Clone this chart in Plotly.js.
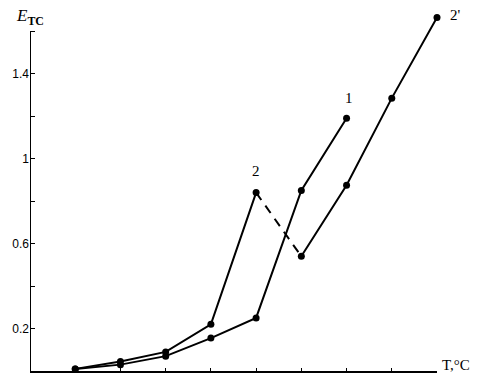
<!DOCTYPE html>
<html>
<head>
<meta charset="utf-8">
<script src="https://cdn.plot.ly/plotly-3.0.1.min.js"></script>
<style>html,body{margin:0;padding:0;background:#fff;}#chart{width:483px;height:376px;}</style>
</head>
<body>
<div id="chart"></div>
<script>
// Data (x = temperature step index)
const x1 = [1, 2, 3, 4, 5, 6, 7];
const y1 = [0.01, 0.03, 0.07, 0.155, 0.25, 0.85, 1.19];
const x2 = [1, 2, 3, 4, 5];
const y2 = [0.01, 0.045, 0.09, 0.22, 0.84];
const x2p = [6, 7, 8, 9];
const y2p = [0.54, 0.875, 1.285, 1.665];
const yTickVals = [0.2, 0.6, 1.0, 1.4];
const yTickText = ['0.2', '0.6', '1', '1.4'];
const yMinorTickVals = [0.4, 0.8, 1.2, 1.6];
const xTickVals = [1, 2, 3, 4, 5, 6, 7, 8, 9];
const yAxisTop = 1.6;

const lineStyle = {color: '#000', width: 2};
const markerStyle = {color: '#000', size: 7};

const traces = [
  {x: x1, y: y1, mode: 'lines+markers', line: lineStyle, marker: markerStyle, cliponaxis: false},
  {x: x2, y: y2, mode: 'lines+markers', line: lineStyle, marker: markerStyle, cliponaxis: false},
  {x: [x2[x2.length - 1], x2p[0]], y: [y2[y2.length - 1], y2p[0]], mode: 'lines',
   line: {color: '#000', width: 2, dash: '9px,7px'}, cliponaxis: false},
  {x: x2p, y: y2p, mode: 'lines+markers', line: lineStyle, marker: markerStyle, cliponaxis: false}
];

const serif = 'Liberation Serif, Times New Roman, serif';
const layout = {
  width: 483, height: 376,
  margin: {l: 30, r: 46, t: 10, b: 5},
  paper_bgcolor: '#fff', plot_bgcolor: '#fff',
  showlegend: false,
  xaxis: {
    range: [0, 9], showgrid: false, zeroline: false,
    showline: true, linecolor: '#000', linewidth: 2,
    ticks: 'inside', ticklen: 3, tickwidth: 1, tickcolor: '#000',
    tickvals: xTickVals, showticklabels: false
  },
  yaxis: {
    range: [0, 1.7], showgrid: false, zeroline: false,
    showline: false,
    ticks: 'inside', ticklen: 5, tickwidth: 1, tickcolor: '#000',
    tickvals: yTickVals, ticktext: yTickText,
    tickfont: {family: 'Liberation Sans, Arial, sans-serif', size: 12, color: '#000'},
    minor: {tickvals: yMinorTickVals, ticks: 'inside', ticklen: 5, tickwidth: 1, tickcolor: '#000', showgrid: false}
  },
  shapes: [
    {type: 'line', xref: 'x', yref: 'y', x0: 0, x1: 0, y0: 0, y1: yAxisTop,
     line: {color: '#000', width: 2}}
  ],
  annotations: [
    {xref: 'paper', yref: 'y', x: 0, y: yAxisTop, xshift: -16, yshift: 14, xanchor: 'left', yanchor: 'middle',
     text: '<i>E</i><sub><b>TC</b></sub>', showarrow: false, font: {family: serif, size: 17, color: '#000'}},
    {xref: 'paper', yref: 'paper', x: 1.0, y: 0, xshift: 3, yshift: 6, xanchor: 'left', yanchor: 'middle',
     text: 'T,°C', showarrow: false, font: {family: serif, size: 15, color: '#000'}},
    {x: x1[x1.length - 1], y: y1[y1.length - 1], yshift: 20, xshift: 2, text: '1', showarrow: false,
     font: {family: serif, size: 15, color: '#000'}},
    {x: x2[x2.length - 1], y: y2[y2.length - 1], yshift: 22, text: '2', showarrow: false,
     font: {family: serif, size: 15, color: '#000'}},
    {x: x2p[x2p.length - 1], y: y2p[y2p.length - 1], xshift: 18, yshift: 2, text: "2'", showarrow: false,
     font: {family: serif, size: 15, color: '#000'}}
  ]
};

Plotly.newPlot('chart', traces, layout, {staticPlot: true, displayModeBar: false});
</script>
</body>
</html>
